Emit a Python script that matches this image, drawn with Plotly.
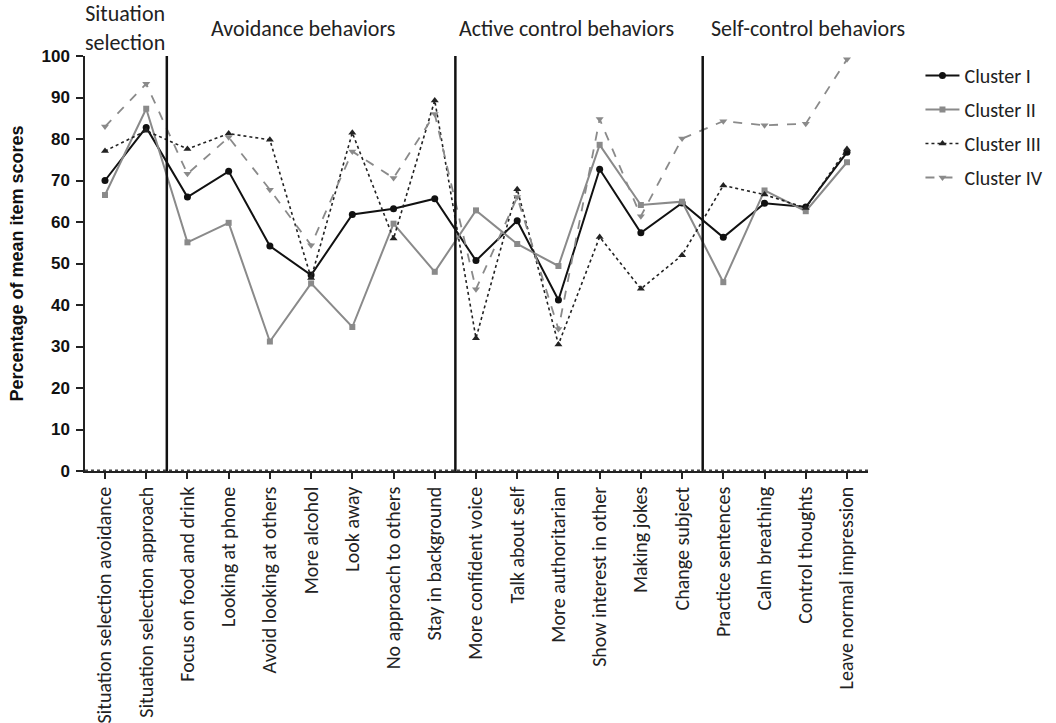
import plotly.graph_objects as go

categories = [
    "Situation selection avoidance", "Situation selection approach",
    "Focus on food and drink", "Looking at phone", "Avoid looking at others",
    "More alcohol", "Look away", "No approach to others", "Stay in background",
    "More confident voice", "Talk about self", "More authoritarian",
    "Show interest in other", "Making jokes", "Change subject",
    "Practice sentences", "Calm breathing", "Control thoughts",
    "Leave normal impression",
]
cluster_1 = [70.0, 82.8, 66.0, 72.2, 54.2, 47.2, 61.8, 63.2, 65.6, 50.7, 60.3, 41.2, 72.7, 57.4, 64.6, 56.3, 64.5, 63.6, 76.8]
cluster_2 = [66.5, 87.3, 55.1, 59.8, 31.2, 45.2, 34.7, 59.6, 48.0, 62.8, 54.7, 49.4, 78.6, 64.1, 64.9, 45.5, 67.6, 62.6, 74.4]
cluster_3 = [77.1, 82.0, 77.6, 81.3, 79.8, 46.5, 81.5, 56.0, 89.3, 32.0, 67.9, 30.5, 56.4, 43.9, 52.0, 68.8, 66.6, 63.4, 77.6]
cluster_4 = [83.0, 93.3, 71.6, 80.4, 67.8, 54.4, 77.0, 70.6, 86.0, 43.8, 66.0, 34.2, 84.8, 61.4, 80.1, 84.3, 83.3, 83.7, 99.2]

series_names = ["Cluster I", "Cluster II", "Cluster III", "Cluster IV"]
group_labels = ["Situation<br>selection", "Avoidance behaviors", "Active control behaviors", "Self-control behaviors"]
group_centers = [0.49, 4.8, 11.2, 17.05]
separators = [1.5, 8.5, 14.5]
y_ticks = [0, 10, 20, 30, 40, 50, 60, 70, 80, 90, 100]

label_font = "Carlito, Lato, sans-serif"
x = list(range(len(categories)))

styles = [
    dict(color="#111111", dash="solid", width=2, symbol="circle", size=7),
    dict(color="#8a8a8a", dash="solid", width=2, symbol="square", size=6),
    dict(color="#222222", dash="dot", width=1.6, symbol="triangle-up", size=7),
    dict(color="#8a8a8a", dash="dash", width=1.8, symbol="triangle-down", size=7),
]

fig = go.Figure()
for name, vals, st in zip(series_names, [cluster_1, cluster_2, cluster_3, cluster_4], styles):
    fig.add_trace(go.Scatter(
        x=x, y=vals, name=name, mode="lines+markers", legendgroup=name,
        line=dict(color=st["color"], dash=st["dash"], width=st["width"]),
        marker=dict(color=st["color"], symbol=st["symbol"], size=st["size"]),
    ))

for s in separators:
    fig.add_shape(type="line", xref="x", yref="y", x0=s, x1=s, y0=0, y1=100,
                  line=dict(color="#111111", width=2.5))

# dotted baseline overlay
fig.add_shape(type="line", xref="paper", yref="y", x0=0, x1=1, y0=0, y1=0,
              line=dict(color="#444444", width=3, dash="dot"))

for lab, cx in zip(group_labels, group_centers):
    fig.add_annotation(x=cx, y=1.067, xref="x", yref="paper", text=lab,
                       showarrow=False, xanchor="center", yanchor="middle",
                       font=dict(family=label_font, size=22, color="#222222"))

fig.update_layout(
    width=1056, height=723,
    margin=dict(l=85, r=188, t=56, b=252, autoexpand=False),
    paper_bgcolor="white", plot_bgcolor="white",
    showlegend=True,
    legend=dict(x=1.067, y=1.0, xanchor="left", yanchor="top",
                font=dict(family=label_font, size=20, color="#222222"),
                tracegroupgap=5, itemwidth=34, bgcolor="rgba(0,0,0,0)"),
    xaxis=dict(
        range=[-0.485, 18.51], tickmode="array", tickvals=x, ticktext=categories,
        tickangle=-90, ticks="outside", ticklen=6, tickwidth=1.5, tickcolor="#222",
        showline=True, linecolor="#222222", linewidth=1.5, showgrid=False,
        zeroline=False, automargin=False,
        tickfont=dict(family=label_font, size=20, color="#222222"),
    ),
    yaxis=dict(
        range=[0, 100], tickmode="array", tickvals=y_ticks,
        ticks="outside", ticklen=7, tickwidth=1.5, tickcolor="#222",
        showline=True, linecolor="#222222", linewidth=1.5, showgrid=False,
        zeroline=False, automargin=False, ticklabelstandoff=3,
        tickfont=dict(family="Liberation Sans, Arial, sans-serif", size=17, color="#111111", weight="bold"),
        title=dict(text="<b>Percentage of mean item scores</b>", standoff=13,
                   font=dict(family="Liberation Sans, Arial, sans-serif", size=18, color="#111111")),
    ),
)

fig.write_html("out.html", config={"displayModeBar": False},
               post_script="document.body.style.margin='0';")
